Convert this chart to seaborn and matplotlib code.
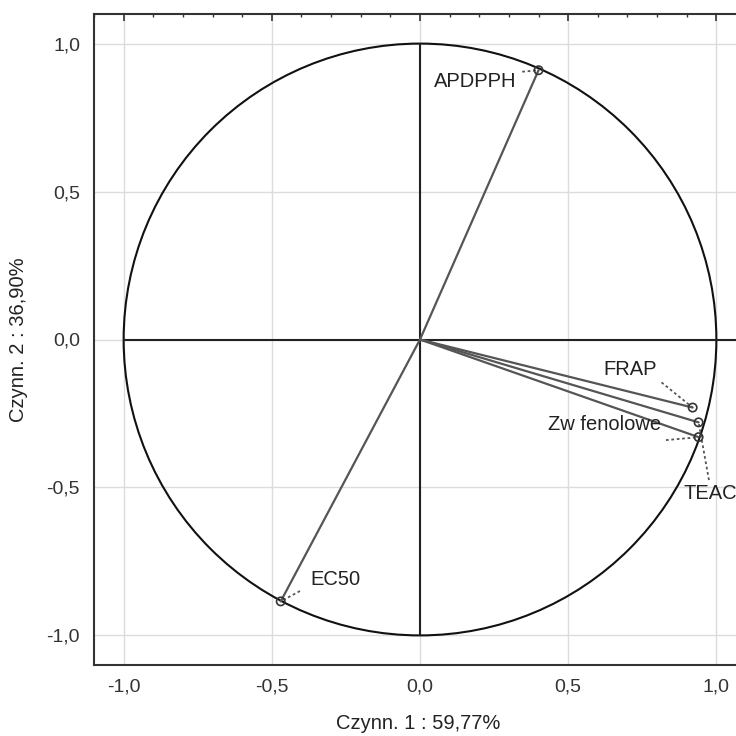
import matplotlib
matplotlib.use("Agg")
import matplotlib.pyplot as plt
import matplotlib.patches as mpatches
from matplotlib.ticker import FixedLocator, MultipleLocator, FuncFormatter
import pandas as pd
import seaborn as sns

# loadings
variables = ["APDPPH", "FRAP", "TEAC", "Zw fenolowe", "EC50"]
factor1 = [0.40, 0.92, 0.94, 0.94, -0.47]
factor2 = [0.91, -0.23, -0.28, -0.33, -0.885]

xlabel = "Czynn. 1 : 59,77%"
ylabel = "Czynn. 2 : 36,90%"
ticks = [-1.0, -0.5, 0.0, 0.5, 1.0]

# label placement (text anchor, leader start) in data coords
label_pos = {
    "APDPPH": ((0.047, 0.872), (0.345, 0.905)),
    "FRAP": ((0.62, -0.10), (0.815, -0.145)),
    "TEAC": ((0.89, -0.52), (0.975, -0.475)),
    "Zw fenolowe": ((0.432, -0.287), (0.83, -0.34)),
    "EC50": ((-0.371, -0.81), (-0.405, -0.85)),
}

df = pd.DataFrame({"var": variables, "f1": factor1, "f2": factor2})

sns.set_theme(style="white")
plt.rcParams["font.family"] = ["Liberation Sans", "DejaVu Sans"]

fig = plt.figure(figsize=(7.36, 7.36), dpi=100)
ax = fig.add_axes([94 / 736, 71 / 736, 652 / 736, 651 / 736])

ax.set_xlim(-1.1, 1.1)
ax.set_ylim(-1.1, 1.1)

ax.grid(True, color="#dcdcdc", linewidth=1.0, zorder=0)
ax.xaxis.set_major_locator(FixedLocator(ticks))
ax.yaxis.set_major_locator(FixedLocator(ticks))
ax.xaxis.set_minor_locator(MultipleLocator(0.1))
ax.yaxis.set_minor_locator(MultipleLocator(0.1))
fmt = FuncFormatter(lambda v, p: f"{v:.1f}".replace(".", ",").replace("-0,0", "0,0"))
ax.xaxis.set_major_formatter(fmt)
ax.yaxis.set_major_formatter(fmt)

ax.tick_params(which="major", direction="in", length=5, width=1.2,
               color="#333333", top=True, labelsize=14, labelcolor="#333333",
               pad=10)
ax.tick_params(which="minor", direction="in", length=2.5, width=1.0,
               color="#333333", top=True)
for side in ["left", "bottom", "top", "right"]:
    ax.spines[side].set_color("#333333")
    ax.spines[side].set_linewidth(1.5)

# unit circle and the two axes through the origin
ax.add_patch(mpatches.Circle((0, 0), 1.0, fill=False, edgecolor="#111111",
                             linewidth=1.5, zorder=2))
ax.plot([-1.0, 1.1], [0, 0], color="#222222", linewidth=1.5, zorder=2)
ax.plot([0, 0], [-1.0, 1.0], color="#222222", linewidth=1.5, zorder=2)

# loading vectors
for _, row in df.iterrows():
    ax.plot([0, row.f1], [0, row.f2], color="#555555", linewidth=1.6, zorder=3)

sns.scatterplot(data=df, x="f1", y="f2", ax=ax, marker="o", s=36,
                facecolor="none", edgecolor="#333333", linewidth=1.2,
                zorder=4, legend=False)

for _, row in df.iterrows():
    (tx, ty), (lx, ly) = label_pos[row["var"]]
    ax.text(tx, ty, row["var"], ha="left", va="center", fontsize=14.5,
            color="#222222", zorder=5)
    ax.plot([lx, row.f1], [ly, row.f2], color="#555555", linewidth=1.3,
            linestyle=(0, (1.5, 1.5)), zorder=3)

ax.set_xlabel(xlabel, fontsize=14.5, color="#222222")
ax.set_ylabel(ylabel, fontsize=14.5, color="#222222")
ax.xaxis.set_label_coords(0.497, -0.075)
ax.yaxis.set_label_coords(-0.101, 0.499)

fig.savefig("out.png", dpi=100)
